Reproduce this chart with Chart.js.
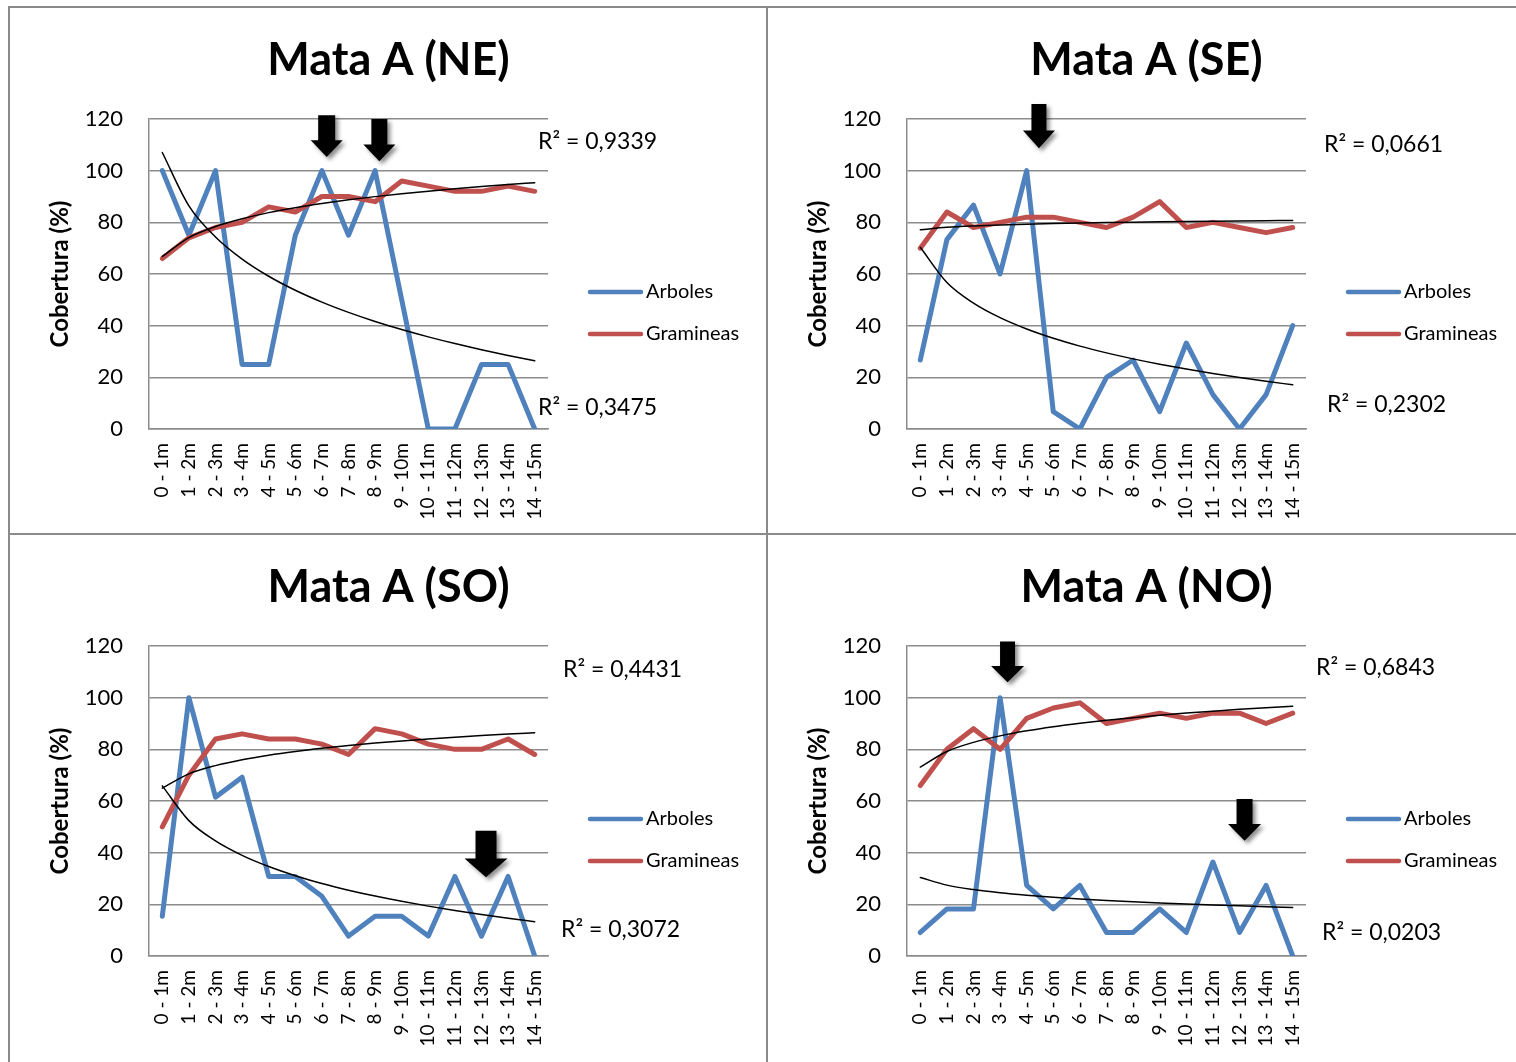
<!DOCTYPE html>
<html>
<head>
<meta charset="utf-8">
<script src="https://cdn.jsdelivr.net/npm/chart.js@4.4.1/dist/chart.umd.min.js"></script>
<style>
  html, body { margin: 0; padding: 0; background: #fff; overflow: hidden; }
  #page { position: relative; width: 1516px; height: 1062px; overflow: hidden; }
  canvas { position: absolute; }
  .rule { position: absolute; background: #8a8a8a; z-index: 2; }
</style>
</head>
<body>
<div id="page">
  <div class="rule" style="left:8px;top:6px;width:1508px;height:2px"></div>
  <div class="rule" style="left:8px;top:6px;width:2px;height:1056px"></div>
  <div class="rule" style="left:766px;top:6px;width:2px;height:1056px"></div>
  <div class="rule" style="left:8px;top:533px;width:1508px;height:2px"></div>
  <canvas id="chartNE" width="755" height="525" style="left:11px;top:9px"></canvas>
  <canvas id="chartSE" width="755" height="525" style="left:769px;top:9px"></canvas>
  <canvas id="chartSO" width="755" height="525" style="left:11px;top:536px"></canvas>
  <canvas id="chartNO" width="755" height="525" style="left:769px;top:536px"></canvas>
</div>
<script>
// --- datos ---
const categories = ['0 - 1m', '1 - 2m', '2 - 3m', '3 - 4m', '4 - 5m', '5 - 6m', '6 - 7m', '7 - 8m',
                    '8 - 9m', '9 - 10m', '10 - 11m', '11 - 12m', '12 - 13m', '13 - 14m', '14 - 15m'];

const arbolesNE   = [100, 75, 100, 25, 25, 75, 100, 75, 100, 50, 0, 0, 25, 25, 0];
const gramineasNE = [66, 74, 78, 80, 86, 84, 90, 90, 88, 96, 94, 92, 92, 94, 92];

const arbolesSE   = [26.7, 73.3, 86.7, 60, 100, 6.7, 0, 20, 26.7, 6.7, 33.3, 13.3, 0, 13.3, 40];
const gramineasSE = [70, 84, 78, 80, 82, 82, 80, 78, 82, 88, 78, 80, 78, 76, 78];

const arbolesSO   = [15.4, 100, 61.5, 69.2, 30.8, 30.8, 23.1, 7.7, 15.4, 15.4, 7.7, 30.8, 7.7, 30.8, 0];
const gramineasSO = [50, 70, 84, 86, 84, 84, 82, 78, 88, 86, 82, 80, 80, 84, 78];

const arbolesNO   = [9.1, 18.2, 18.2, 100, 27.3, 18.2, 27.3, 9.1, 9.1, 18.2, 9.1, 36.4, 9.1, 27.3, 0];
const gramineasNO = [66, 80, 88, 80, 92, 96, 98, 90, 92, 94, 92, 94, 94, 90, 94];

const titles      = ['Mata A (NE)', 'Mata A (SE)', 'Mata A (SO)', 'Mata A (NO)'];
const r2Gramineas = ['R² = 0,9339', 'R² = 0,0661', 'R² = 0,4431', 'R² = 0,6843'];
const r2Arboles   = ['R² = 0,3475', 'R² = 0,2302', 'R² = 0,3072', 'R² = 0,0203'];
const seriesNames = ['Arboles', 'Gramineas'];

// --- estilo ---
const FONT = 'Lato, "Open Sans", sans-serif';
const BLUE = '#4f81bd';
const RED = '#c0504d';
const GRID = '#8c8c8c';

// linea de tendencia logaritmica (como Excel): y = c*ln(x) + b
function logTrend(values) {
  const xs = values.map((_, i) => Math.log(i + 1));
  const n = values.length;
  const mx = xs.reduce((a, b) => a + b, 0) / n;
  const my = values.reduce((a, b) => a + b, 0) / n;
  let sxy = 0, sxx = 0;
  xs.forEach((x, i) => { sxy += (x - mx) * (values[i] - my); sxx += (x - mx) * (x - mx); });
  const c = sxy / sxx;
  const b = my - c * mx;
  return xs.map(x => b + c * x);
}

// flechas y etiquetas de cada panel (posiciones)
const panels = [
  { id: 'chartNE', arb: arbolesNE, gra: gramineasNE, k: 0,
    r2Pos: [[527, 133], [527, 399]],
    arrows: [{ x: 6.18, top: 121.5, tip: 105.3, shaft: 17, head: 32 },
             { x: 8.16, top: 120, tip: 103.6, shaft: 16, head: 32 }] },
  { id: 'chartSE', arb: arbolesSE, gra: gramineasSE, k: 1,
    r2Pos: [[555, 136], [558, 396]],
    arrows: [{ x: 4.46, top: 125.8, tip: 108.7, shaft: 15, head: 32 }] },
  { id: 'chartSO', arb: arbolesSO, gra: gramineasSO, k: 2,
    r2Pos: [[552, 134], [550, 394]],
    arrows: [{ x: 12.17, top: 48.5, tip: 30.5, shaft: 21, head: 43 }] },
  { id: 'chartNO', arb: arbolesNO, gra: gramineasNO, k: 3,
    r2Pos: [[547, 132], [553, 397]],
    arrows: [{ x: 3.28, top: 121.7, tip: 106, shaft: 15, head: 33 },
             { x: 12.19, top: 60.8, tip: 44.6, shaft: 16, head: 33 }] }
];

// titulo, leyenda, R² y flechas dibujados a mano
const decorPlugin = {
  id: 'decor',
  afterDatasetsDraw(chart, args, opts) {
    const ctx = chart.ctx;
    const area = chart.chartArea;
    const xs = chart.scales.x, ys = chart.scales.y;
    ctx.save();

    // titulo
    ctx.fillStyle = '#000';
    ctx.font = 'bold 45px ' + FONT;
    ctx.textAlign = 'center';
    ctx.textBaseline = 'middle';
    ctx.fillText(opts.title, chart.width / 2, 51);

    // leyenda
    ctx.font = '20px ' + FONT;
    ctx.textAlign = 'left';
    [BLUE, RED].forEach((col, i) => {
      const y = 283 + i * 42;
      ctx.strokeStyle = col;
      ctx.lineWidth = 4.5;
      ctx.lineCap = 'round';
      ctx.beginPath();
      ctx.moveTo(area.right + 42, y);
      ctx.lineTo(area.right + 93, y);
      ctx.stroke();
      ctx.fillText(seriesNames[i], area.right + 98, y);
    });

    // R²
    ctx.font = '23px ' + FONT;
    ctx.fillText(r2Gramineas[opts.k], opts.r2Pos[0][0], opts.r2Pos[0][1]);
    ctx.fillText(r2Arboles[opts.k], opts.r2Pos[1][0], opts.r2Pos[1][1]);

    // flechas
    opts.arrows.forEach(a => {
      const cx = xs.getPixelForValue(a.x);
      const y0 = ys.getPixelForValue(a.top);
      const y1 = ys.getPixelForValue(a.tip);
      const hs = y1 - (y1 - y0) * 0.4;
      ctx.save();
      ctx.shadowColor = 'rgba(0,0,0,0.45)';
      ctx.shadowBlur = 4;
      ctx.shadowOffsetX = 3;
      ctx.shadowOffsetY = 3;
      ctx.fillStyle = '#000';
      ctx.beginPath();
      ctx.moveTo(cx - a.shaft / 2, y0);
      ctx.lineTo(cx + a.shaft / 2, y0);
      ctx.lineTo(cx + a.shaft / 2, hs);
      ctx.lineTo(cx + a.head / 2, hs);
      ctx.lineTo(cx, y1);
      ctx.lineTo(cx - a.head / 2, hs);
      ctx.lineTo(cx - a.shaft / 2, hs);
      ctx.closePath();
      ctx.fill();
      ctx.restore();
    });

    ctx.restore();
  }
};

function makeChart(p) {
  const ctx = document.getElementById(p.id).getContext('2d');
  return new Chart(ctx, {
    type: 'line',
    data: {
      labels: categories,
      datasets: [
        { label: seriesNames[0], data: p.arb, borderColor: BLUE, borderWidth: 5, order: 2 },
        { label: seriesNames[1], data: p.gra, borderColor: RED, borderWidth: 5, order: 1 },
        { label: 'tendA', data: logTrend(p.arb), borderColor: '#000', borderWidth: 1.5,
          cubicInterpolationMode: 'monotone', order: 0 },
        { label: 'tendG', data: logTrend(p.gra), borderColor: '#000', borderWidth: 1.5,
          cubicInterpolationMode: 'monotone', order: 0 }
      ]
    },
    options: {
      responsive: false,
      animation: false,
      devicePixelRatio: 1,
      layout: { padding: { top: 110, right: 218, left: 0, bottom: 0 } },
      elements: {
        point: { radius: 0, hoverRadius: 0 },
        line: { borderJoinStyle: 'round', borderCapStyle: 'round', fill: false }
      },
      plugins: {
        legend: { display: false },
        title: { display: false },
        tooltip: { enabled: false },
        decor: { title: titles[p.k], k: p.k, r2Pos: p.r2Pos, arrows: p.arrows }
      },
      scales: {
        x: {
          type: 'category',
          offset: true,
          grid: { display: false, drawTicks: false },
          border: { color: GRID, width: 1.5 },
          ticks: {
            autoSkip: false, minRotation: 90, maxRotation: 90, padding: 14,
            color: '#000', font: { family: FONT, size: 19 }
          },
          afterFit(scale) { scale.height = 105; }
        },
        y: {
          min: 0, max: 120,
          grid: { color: GRID, lineWidth: 1.5, drawTicks: false },
          border: { color: GRID, width: 1.5 },
          ticks: { stepSize: 20, padding: 26, color: '#000', font: { family: FONT, size: 22 } },
          title: {
            display: true, text: 'Cobertura (%)', color: '#000',
            font: { family: FONT, size: 24, weight: 'bold' },
            padding: { top: 35, bottom: 0 }
          },
          afterFit(scale) { scale.width = 138; }
        }
      }
    },
    plugins: [decorPlugin]
  });
}

panels.forEach(makeChart);
</script>
</body>
</html>
